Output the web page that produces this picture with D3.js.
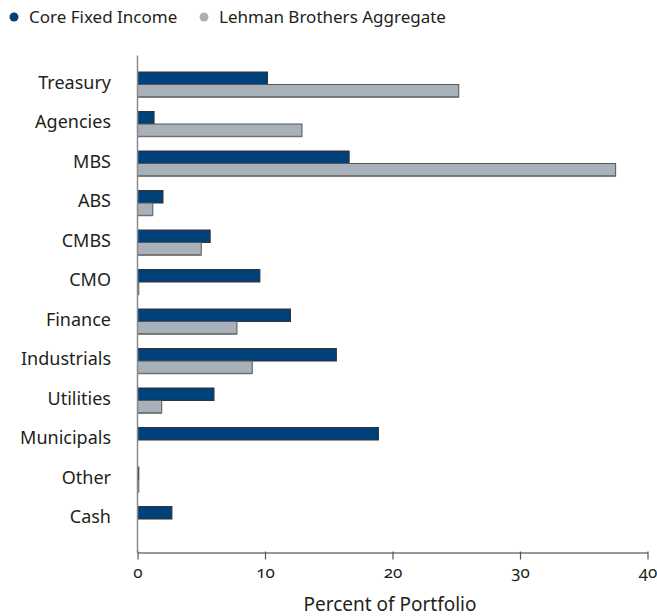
<!DOCTYPE html>
<html>
<head>
<meta charset="utf-8">
<script src="https://cdn.jsdelivr.net/npm/d3@7"></script>
<style>
  body { margin: 0; background: #fff; }
  svg text { font-family: "Noto Sans", "Open Sans", sans-serif; fill: #231f20; }
  .tick-label { font-variant-numeric: oldstyle-nums; font-feature-settings: "onum"; }
</style>
</head>
<body>
<div id="chart"></div>
<script>
// sector weights, percent of portfolio
var categories = ["Treasury", "Agencies", "MBS", "ABS", "CMBS", "CMO", "Finance",
                  "Industrials", "Utilities", "Municipals", "Other", "Cash"];
var coreFixedIncome = [10.2, 1.3, 16.6, 2.0, 5.7, 9.6, 12.0, 15.6, 6.0, 18.9, 0.1, 2.7];
var lehmanAggregate = [25.2, 12.9, 37.5, 1.2, 5.0, 0.1, 7.8, 9.0, 1.9, 0, 0.1, 0];
var seriesNames = ["Core Fixed Income", "Lehman Brothers Aggregate"];
var xTicks = [0, 10, 20, 30, 40];

var colors = ["#00417a", "#a8b1b9"];
var strokes = ["#333", "#555"];

var width = 657, height = 616;

var svg = d3.select("#chart").append("svg")
    .attr("width", width)
    .attr("height", height);

var x = d3.scaleLinear().domain([0, 40]).range([137.5, 647.5]);
var y = d3.scaleBand().domain(categories).range([64.75, 538.75]);
var barH = 12.5;
var axisY = 552.5;

// legend
var legend = svg.append("g");
var legendX = [14, 204];
seriesNames.forEach(function (name, i) {
    legend.append("circle")
        .attr("cx", legendX[i]).attr("cy", 17).attr("r", 4.5)
        .attr("fill", colors[i]);
    legend.append("text")
        .attr("x", legendX[i] + 15).attr("y", 23)
        .style("font-size", "17px")
        .text(name);
});

// bars
var series = [coreFixedIncome, lehmanAggregate];
series.forEach(function (values, s) {
    svg.append("g").selectAll("rect")
        .data(values)
        .enter().append("rect")
        .attr("x", x(0))
        .attr("y", function (d, i) { return y(categories[i]) + y.bandwidth() / 2 - barH + s * barH; })
        .attr("width", function (d) { return Math.max(0, x(d) - x(0)); })
        .attr("height", barH)
        .attr("fill", colors[s])
        .attr("stroke", strokes[s])
        .attr("stroke-width", 1);
    if (s === 1) {
        // darker bottom edge on the grey bars
        svg.append("g").selectAll("line")
            .data(values)
            .enter().append("line")
            .attr("x1", x(0))
            .attr("x2", function (d) { return x(d); })
            .attr("y1", function (d, i) { return y(categories[i]) + y.bandwidth() / 2 + barH; })
            .attr("y2", function (d, i) { return y(categories[i]) + y.bandwidth() / 2 + barH; })
            .attr("stroke", "#6e7073")
            .attr("stroke-width", 1.5);
    }
});

// category labels
svg.append("g").selectAll("text")
    .data(categories)
    .enter().append("text")
    .attr("x", 111)
    .attr("y", function (d) { return y(d) + y.bandwidth() / 2 + 4; })
    .attr("text-anchor", "end")
    .style("font-size", "18px")
    .text(function (d) { return d; });

// vertical axis line
svg.append("line")
    .attr("x1", x(0)).attr("x2", x(0))
    .attr("y1", 55.5).attr("y2", axisY)
    .attr("stroke", "#8a8a8a").attr("stroke-width", 1.5);

// x axis
var xAxis = d3.axisBottom(x).tickValues(xTicks).tickSize(7).tickSizeOuter(0).tickPadding(6);
var gx = svg.append("g")
    .attr("transform", "translate(0," + axisY + ")")
    .call(xAxis);
gx.select(".domain").attr("stroke", "#333").attr("stroke-width", 1.2);
gx.selectAll(".tick line").attr("stroke", "#555").attr("stroke-width", 1.2)
    .attr("y1", -1);
gx.selectAll(".tick text")
    .attr("class", "tick-label")
    .style("font-size", "17px")
    .style("font-family", "\"Noto Sans\", sans-serif")
    .attr("fill", "#231f20");

svg.append("text")
    .attr("x", 390)
    .attr("y", 611)
    .attr("text-anchor", "middle")
    .style("font-size", "19px")
    .text("Percent of Portfolio");
</script>
</body>
</html>
